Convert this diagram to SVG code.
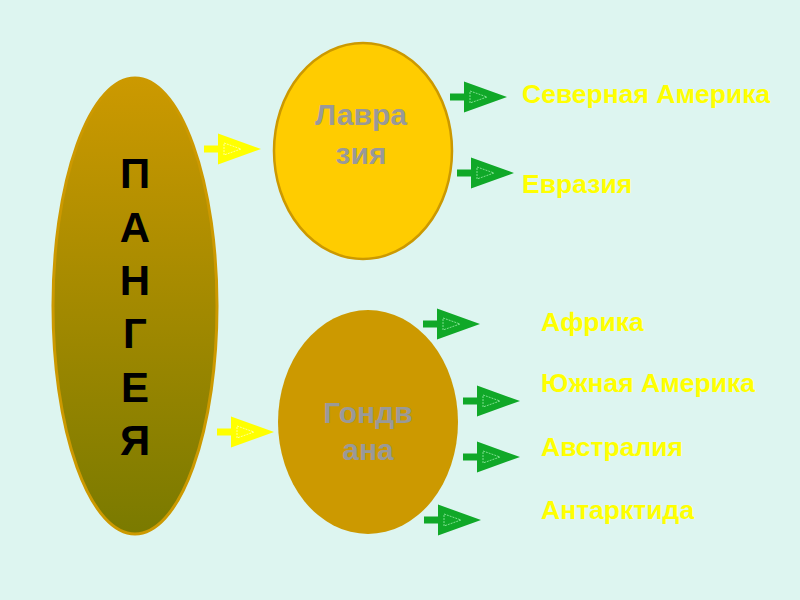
<svg xmlns="http://www.w3.org/2000/svg" xmlns:xlink="http://www.w3.org/1999/xlink" width="800" height="600" viewBox="0 0 800 600">
<defs>
<linearGradient id="pg" x1="0" y1="0" x2="0" y2="1">
<stop offset="0" stop-color="#CC9900"/>
<stop offset="1" stop-color="#7A7A00"/>
</linearGradient>
<g id="arr">
<path d="M0,-3.5 H14 V-15.5 L57,0 L14,15.5 V3.5 H0 Z"/>
<path d="M20,-6 L37,0 L20,6 Z" fill="none" stroke="currentColor" stroke-width="1" stroke-dasharray="2,1"/>
</g>
</defs>
<style>
.bg{fill:#DDF5F0}
.y{fill:#FFFF00;color:#FFFF99}
.g{fill:#10A828;color:#7FDF8F}
.pl{font-family:"Liberation Sans",Arial,sans-serif;font-weight:bold;font-size:42px;fill:#000;text-anchor:middle}
.nl{font-family:"Liberation Sans",Arial,sans-serif;font-weight:bold;font-size:30px;fill:#999999;text-anchor:middle}
.cl{font-family:"Liberation Sans",Arial,sans-serif;font-weight:bold;font-size:26.5px;fill:#FFFF00}
</style>
<rect class="bg" x="0" y="0" width="800" height="600"/>
<g id="pangea">
<ellipse cx="135" cy="306" rx="82" ry="228" fill="url(#pg)" stroke="#CC9900" stroke-width="3"/>
<text class="pl" x="135" y="188">П</text>
<text class="pl" x="135" y="242">А</text>
<text class="pl" x="135" y="295">Н</text>
<text class="pl" x="135" y="348">Г</text>
<text class="pl" x="135" y="402">Е</text>
<text class="pl" x="135" y="455">Я</text>
</g>
<g id="laurasia">
<ellipse cx="363" cy="151" rx="89" ry="108" fill="#FFCC00" stroke="#CC9900" stroke-width="2.5"/>
<text class="nl" x="361" y="125">Лавра</text>
<text class="nl" x="361" y="164">зия</text>
</g>
<g id="gondwana">
<ellipse cx="368" cy="422" rx="90" ry="112" fill="#CC9900"/>
<text class="nl" x="368" y="423">Гондв</text>
<text class="nl" x="368" y="460">ана</text>
</g>
<g id="north-america"><text class="cl" x="522" y="103">Северная Америка</text></g>
<g id="eurasia"><text class="cl" x="522" y="193">Евразия</text></g>
<g id="africa"><text class="cl" x="541" y="331">Африка</text></g>
<g id="south-america"><text class="cl" x="541" y="392">Южная Америка</text></g>
<g id="australia"><text class="cl" x="541" y="456">Австралия</text></g>
<g id="antarctica"><text class="cl" x="541" y="519">Антарктида</text></g>
<g id="connectors">
<use xlink:href="#arr" href="#arr" class="y" transform="translate(204,149)"/>
<use xlink:href="#arr" href="#arr" class="y" transform="translate(217,432)"/>
<use xlink:href="#arr" href="#arr" class="g" transform="translate(450,97)"/>
<use xlink:href="#arr" href="#arr" class="g" transform="translate(457,173)"/>
<use xlink:href="#arr" href="#arr" class="g" transform="translate(423,324)"/>
<use xlink:href="#arr" href="#arr" class="g" transform="translate(463,401)"/>
<use xlink:href="#arr" href="#arr" class="g" transform="translate(463,457)"/>
<use xlink:href="#arr" href="#arr" class="g" transform="translate(424,520)"/>
</g>
</svg>
